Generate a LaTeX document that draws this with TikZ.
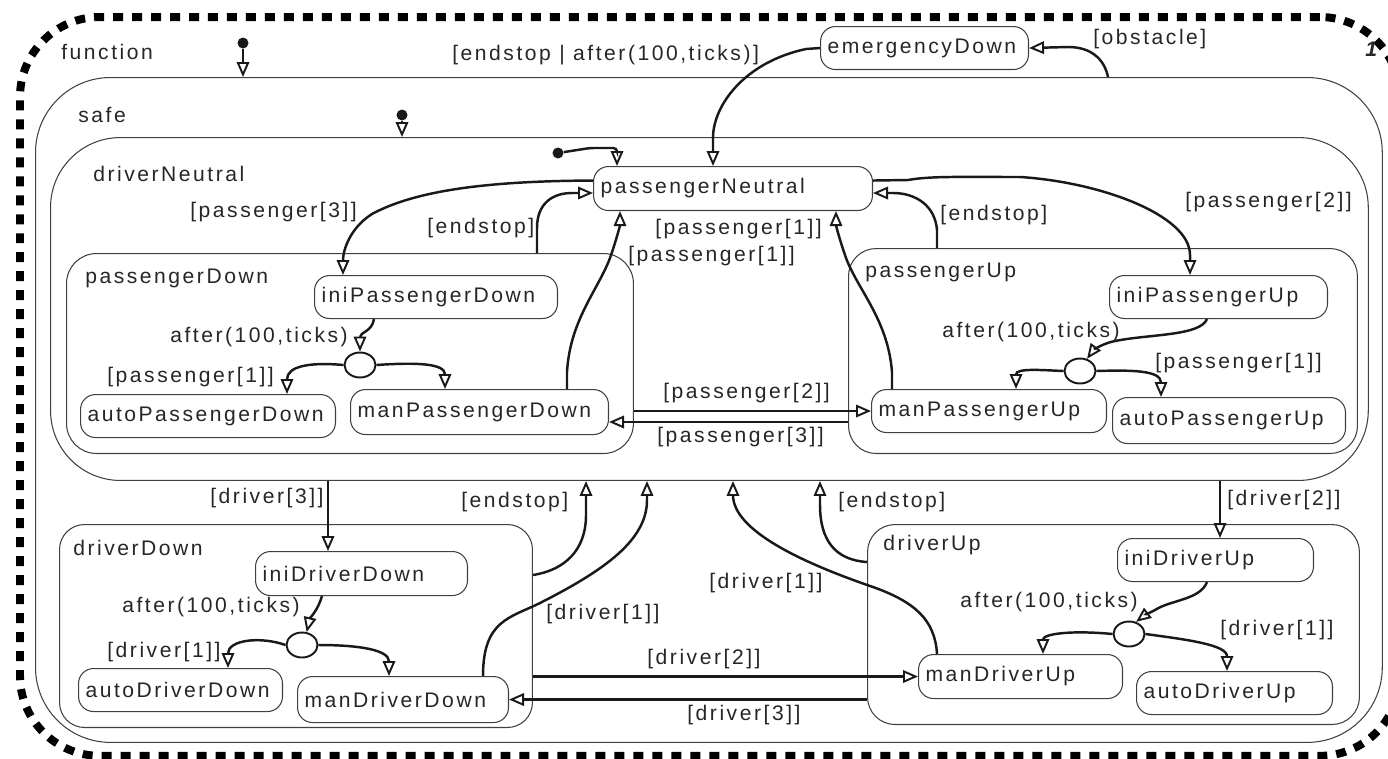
\documentclass[tikz,border=0pt]{standalone}
\usepackage{fontspec}
\setmainfont{Liberation Sans}[LetterSpace=12]
\usetikzlibrary{arrows.meta}
\usetikzlibrary{shapes.geometric}
\usetikzlibrary{calc}

\begin{document}
\begin{tikzpicture}[x=0.02cm, y=-0.02cm,
  every node/.style={font=\fontsize{12}{14}\selectfont, text=black!85},
  region/.style={draw=black!75, line width=0.6pt, anchor=north west, inner sep=0pt},
  state/.style={draw=black!75, line width=0.6pt, rounded corners=0.3cm, anchor=north west,
    inner xsep=0.14cm, inner ysep=0pt, align=left},
  choice/.style={draw=black!90, line width=1.1pt, ellipse, inner sep=0pt,
    minimum width=0.62cm, minimum height=0.5cm},
  initdot/.style={fill=black!90, circle, inner sep=0pt, minimum size=0.22cm},
  tr/.style={draw=black!90, line width=1.4pt,
    -{Triangle[open, length=0.3cm, width=0.25cm, line width=1.1pt]}},
  lbl/.style={anchor=west, inner sep=0pt}]
  \useasboundingbox (0,0) rectangle (1388,758);

  % Regions
  \node[region, draw=black, line width=0.16cm, dash pattern=on 0.2cm off 0.18cm,
    rounded corners=1.6cm, minimum width=27.6cm, minimum height=14.78cm] (fn) at (16,13) {};
  \node[region, rounded corners=1.5cm, minimum width=26.94cm, minimum height=13.3cm] (safe) at (35,77) {};
  \node[region, rounded corners=1.4cm, minimum width=26.36cm, minimum height=6.86cm] (dN) at (50,137) {};
  \node[region, rounded corners=0.6cm, minimum width=11.34cm, minimum height=4.0cm] (pD) at (66,253) {};
  \node[region, rounded corners=0.55cm, minimum width=10.18cm, minimum height=4.1cm] (pU) at (848,248) {};
  \node[region, rounded corners=0.5cm, minimum width=9.46cm, minimum height=4.06cm] (dD) at (59,524) {};
  \node[region, rounded corners=0.55cm, minimum width=9.84cm, minimum height=4.0cm] (dU) at (867,524) {};

  \node[lbl] (fnL) at (61,52) {function};
  \node[lbl] (safeL) at (78,115) {safe};
  \node[lbl] (dNL) at (93,174) {driverNeutral};
  \node[lbl] (pDL) at (85,278) {passengerDown};
  \node[lbl] (pUL) at (865,272) {passengerUp};
  \node[lbl] (dDL) at (73,548) {driverDown};
  \node[lbl] (dUL) at (883,545) {driverUp};
  \node[lbl, font=\fontsize{12}{14}\selectfont\bfseries\itshape] (one) at (1365,49) {1};

  % States
  \node[state, text width=5.30cm, minimum height=0.88cm] (pN) at (593,166) {passengerNeutral};
  \node[state, text width=3.88cm, minimum height=0.86cm] (eD) at (820,26) {emergencyDown};
  \node[state, text width=4.58cm, minimum height=0.86cm] (iPD) at (314,275) {iniPassengerDown};
  \node[state, text width=4.82cm, minimum height=0.86cm] (aPD) at (80,394) {autoPassengerDown};
  \node[state, text width=4.88cm, minimum height=0.90cm] (mPD) at (350,389) {manPassengerDown};
  \node[state, text width=4.08cm, minimum height=0.86cm] (iPU) at (1109,275) {iniPassengerUp};
  \node[state, text width=4.42cm, minimum height=0.86cm] (mPU) at (871,389) {manPassengerUp};
  \node[state, text width=4.38cm, minimum height=0.92cm] (aPU) at (1112,397) {autoPassengerUp};
  \node[state, text width=3.96cm, minimum height=0.88cm] (iDD) at (255,551) {iniDriverDown};
  \node[state, text width=3.80cm, minimum height=0.86cm] (aDD) at (78,668) {autoDriverDown};
  \node[state, text width=3.94cm, minimum height=0.92cm] (mDD) at (297,676) {manDriverDown};
  \node[state, text width=3.64cm, minimum height=0.86cm] (iDU) at (1117,538) {iniDriverUp};
  \node[state, text width=3.80cm, minimum height=0.88cm] (mDU) at (918,654) {manDriverUp};
  \node[state, text width=3.64cm, minimum height=0.86cm] (aDU) at (1136,671) {autoDriverUp};

  % Pseudostates
  \node[choice] (cPD) at (360,365) {};
  \node[choice] (cPU) at (1080,371) {};
  \node[choice] (cDD) at (302,645) {};
  \node[choice] (cDU) at (1129,634) {};
  \node[initdot] (i0) at (243,43) {};
  \node[initdot] (i1) at (402,115) {};
  \node[initdot] (i2) at (558,153) {};

  % Initial transitions
  \draw[tr] (i0) -- (i0 |- safe.north);
  \draw[tr] (i1) -- (i1 |- dN.north);
  \draw[tr, rounded corners=2pt] (i2) -- (590,148) -- (617,148) -- (617,0 |- pN.north);

  % Emergency
  \draw[tr] (eD.west) -- (806,49) .. controls (745,62) and (713,105) .. (713,138) -- (713,0 |- pN.north);
  \draw[tr] (1108,0 |- safe.north) .. controls (1104,58) and (1090,47) .. (1068,47) -- (eD.east);
  \node[lbl] (gEm) at (452,55) {[endstop | after(100,ticks)]};
  \node[lbl] (gOb) at (1093,39) {[obstacle]};

  % driverNeutral
  \draw[tr] ($(pN.west)+(0,-8)$) .. controls (500,181) and (420,188) .. (372,214)
    .. controls (350,228) and (343,250) .. (343,0 |- iPD.north);
  \draw[tr] (537,0 |- pD.north) -- (537,228) .. controls (537,203) and (553,193) .. (572,193) -- (pN.west |- 0,193);
  \draw[tr] (567,0 |- mPD.north) -- (567,372) .. controls (570,320) and (598,290) .. (610,258)
    .. controls (617,238) and (620,225) .. (620,0 |- pN.south);
  \draw[tr] (892,0 |- mPU.north) -- (892,372) .. controls (888,320) and (858,290) .. (846,258)
    .. controls (839,238) and (836,225) .. (836,0 |- pN.south);
  \draw[tr] (937,0 |- pU.north) -- (937,230) .. controls (935,205) and (915,193) .. (893,193) -- (pN.east |- 0,193);
  \draw[tr] ($(pN.east)+(0,-8)$) -- (908,180) .. controls (930,176) and (960,177) .. (1020,177)
    .. controls (1100,182) and (1190,215) .. (1190,255) -- (1190,0 |- iPU.north);
  \draw[tr] (pD.east |- mPU.west) -- (mPU.west);
  \draw[tr] (pU.west |- 0,422) -- (mPD.east |- 0,422);
  \node[lbl] (gP3a) at (190,212) {[passenger[3]]};
  \node[lbl] (gP1a) at (628,256) {[passenger[1]]};
  \node[lbl] (gP1b) at (655,229) {[passenger[1]]};
  \node[lbl] (gP2a) at (1185,202) {[passenger[2]]};
  \node[lbl] (gP2b) at (663,393) {[passenger[2]]};
  \node[lbl] (gP3b) at (657,437) {[passenger[3]]};

  % passengerDown / passengerUp
  \draw[tr] (374,0 |- iPD.south) .. controls (372,332) and (360,332) .. (cPD.north);
  \draw[tr] (cPD.west) .. controls (310,362) and (287,366) .. (287,0 |- aPD.north);
  \draw[tr] (cPD.east) .. controls (420,362) and (445,364) .. (445,0 |- mPD.north);
  \draw[tr] (1207,0 |- iPU.south) .. controls (1200,336) and (1150,334) .. (1115,341)
    .. controls (1100,344) and (1092,352) .. (cPU.60);
  \draw[tr] (cPU.west) .. controls (1040,370) and (1016,368) .. (1016,0 |- mPU.north);
  \draw[tr] (cPU.east) .. controls (1130,370) and (1161,370) .. (1161,0 |- aPU.north);
  \node[lbl] (gP1c) at (107,377) {[passenger[1]]};
  \node[lbl] (gP1d) at (1155,363) {[passenger[1]]};

  % driverDown / driverUp
  \draw[tr] (328,0 |- dN.south) -- (328,0 |- iDD.north);
  \draw[tr] (1220,0 |- dN.south) -- (1220,0 |- iDU.north);
  \draw[tr] (dD.east |- 0,575) .. controls (565,570) and (586,550) .. (586,515) -- (586,0 |- dN.south);
  \draw[tr] (483,0 |- mDD.north) .. controls (483,620) and (510,618) .. (540,603)
    .. controls (605,570) and (647,540) .. (647,500) -- (647,0 |- dN.south);
  \draw[tr] (937,0 |- mDU.north) .. controls (935,620) and (915,602) .. (873,587)
    .. controls (800,562) and (733,530) .. (733,495) -- (733,0 |- dN.south);
  \draw[tr] (dU.west |- 0,562) .. controls (835,560) and (820,540) .. (820,505) -- (820,0 |- dN.south);
  \draw[tr] (dD.east |- mDU.west) -- (mDU.west);
  \draw[tr] (dU.west |- mDD.east) -- (mDD.east);
  \draw[tr] (322,0 |- iDD.south) .. controls (318,610) and (310,618) .. (cDD.70);
  \draw[tr] (cDD.west) .. controls (260,636) and (228,640) .. (228,0 |- aDD.north);
  \draw[tr] (cDD.east) .. controls (360,645) and (389,650) .. (389,0 |- mDD.north);
  \draw[tr] (1207,0 |- iDU.south) .. controls (1200,600) and (1170,600) .. (1155,610)
    .. controls (1145,615) .. (cDU.60);
  \draw[tr] (cDU.west) .. controls (1070,630) and (1043,634) .. (1043,0 |- mDU.north);
  \draw[tr] (cDU.east) .. controls (1190,640) and (1227,645) .. (1227,0 |- aDU.north);
  \node[lbl] (gD3a) at (210,498) {[driver[3]]};
  \node[lbl] (gD2a) at (1227,500) {[driver[2]]};
  \node[lbl] (gD1a) at (546,614) {[driver[1]]};
  \node[lbl] (gD1b) at (709,583) {[driver[1]]};
  \node[lbl] (gD2b) at (647,659) {[driver[2]]};
  \node[lbl] (gD3b) at (687,715) {[driver[3]]};
  \node[lbl] (gD1c) at (107,652) {[driver[1]]};
  \node[lbl] (gD1d) at (1220,630) {[driver[1]]};

  % Repeated guards
  \foreach \x/\y [count=\i] in {427/228, 940/215, 461/502, 838/502} {
    \node[lbl] (end\i) at (\x,\y) {[endstop]};
  }
  \foreach \x/\y [count=\i] in {170/337, 942/332, 122/607, 960/602} {
    \node[lbl] (aft\i) at (\x,\y) {after(100,ticks)};
  }
\end{tikzpicture}
\end{document}
